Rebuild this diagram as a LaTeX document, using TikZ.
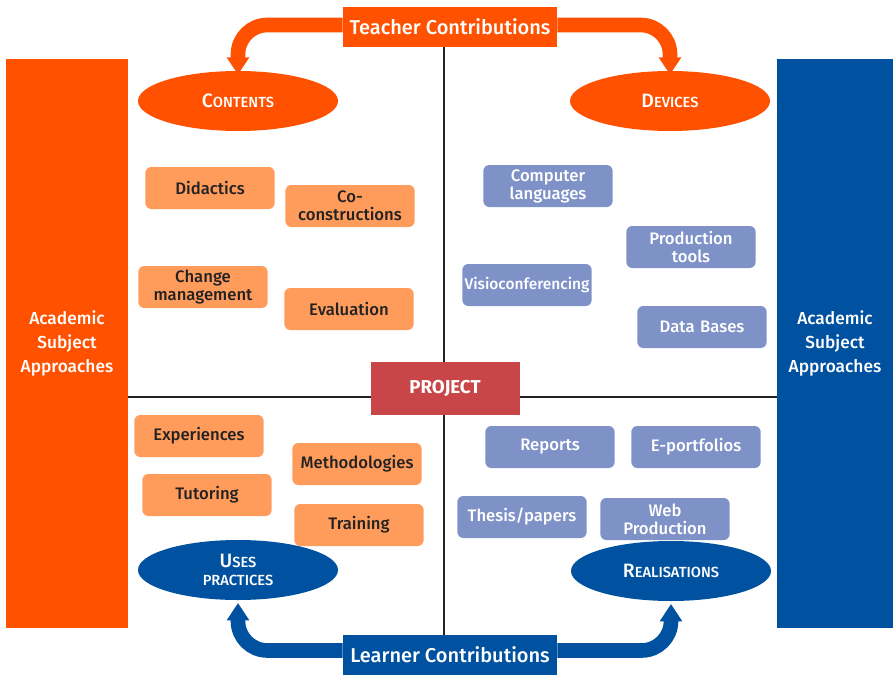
\documentclass[tikz,border=0pt]{standalone}
\usepackage{fontspec}
\setmainfont{Fira Sans}[UprightFont={* Medium}, BoldFont={* Bold}]
\usetikzlibrary{positioning,shapes.geometric,arrows.meta,backgrounds}

\definecolor{teachorange}{RGB}{255,81,0}
\definecolor{learnblue}{RGB}{0,82,160}
\definecolor{lightorange}{RGB}{255,156,92}
\definecolor{lightblue}{RGB}{127,146,200}
\definecolor{projred}{RGB}{200,70,72}
\definecolor{darktext}{RGB}{34,34,34}

\begin{document}
\begin{tikzpicture}[x=0.75pt, y=-0.75pt,
  item/.style={rectangle, rounded corners=4.5pt, minimum width=96pt, minimum height=31.5pt,
    inner sep=1pt, align=center, text width=95pt, font=\fontsize{12.5}{13.5}\selectfont},
  oitem/.style={item, fill=lightorange, text=darktext},
  bitem/.style={item, fill=lightblue, text=white},
  bar/.style={rectangle, minimum height=426.75pt, inner sep=0pt, align=center, text=white,
    font=\fontsize{13}{18}\selectfont},
  topic/.style={ellipse, minimum width=150pt, minimum height=45pt, inner sep=0pt, align=center, text=white},
  contrib/.style={rectangle, minimum width=160.5pt, minimum height=30pt, inner sep=0pt, text=white,
    font=\fontsize{15}{15}\selectfont},
  bigarrow/.style={line width=11pt, rounded corners=22pt, -{Triangle[width=16pt,length=13pt]}},
]
\useasboundingbox (0,0) rectangle (893,675);

% side bars
\node[bar, fill=teachorange, minimum width=91.5pt] (leftbar) at (67,343.5) {Academic\\Subject\\Approaches};
\node[bar, fill=learnblue, minimum width=87pt] (rightbar) at (835,343.5) {Academic\\Subject\\Approaches};

% contributions
\node[contrib, fill=teachorange] (teacher) at (450,27) {Teacher Contributions};
\node[contrib, fill=learnblue] (learner) at (450,655) {Learner Contributions};

\node[rectangle, fill=projred, minimum width=111.75pt, minimum height=39.75pt, text=white,
  font=\fontsize{14}{14}\bfseries] (project) at (445,388) {PROJECT};

% the four topics
\node[topic, fill=teachorange] (contents) at (238,101)
  {{\fontsize{14.5}{14}\selectfont C}{\fontsize{11}{10}\selectfont ONTENTS}};
\node[topic, fill=teachorange] (devices) at (670,101)
  {{\fontsize{14.5}{14}\selectfont D}{\fontsize{11}{10}\selectfont EVICES}};
\node[topic, fill=learnblue] (uses) at (238,570)
  {{\fontsize{14.5}{14}\selectfont U}{\fontsize{11}{10}\selectfont SES}\\[1pt]
   {\fontsize{11}{10}\selectfont PRACTICES}};
\node[topic, fill=learnblue] (real) at (671,571)
  {{\fontsize{14.5}{14}\selectfont R}{\fontsize{11}{10}\selectfont EALISATIONS}};

% contents
\node[oitem] (didactics) at (210,188) {Didactics};
\node[oitem] (cocons) at (350,206) {Co-\\constructions};
\node[oitem] (change) at (203,287) {Change\\management};
\node[oitem] (eval) at (349,309) {Evaluation};

% devices
\node[bitem] (complang) at (548,186) {Computer\\languages};
\node[bitem] (prodtools) at (691,247) {Production\\tools};
\node[bitem, font=\fontsize{11.6}{13}\selectfont] (visio) at (527,285) {Visioconferencing};
\node[bitem] (databases) at (702,327) {Data Bases};

% uses
\node[oitem] (exper) at (199,436) {Experiences};
\node[oitem] (tutor) at (207,495) {Tutoring};
\node[oitem] (method) at (357,464) {Methodologies};
\node[oitem] (train) at (359,525) {Training};

% realisations
\node[bitem] (reports) at (550,447) {Reports};
\node[bitem] (eport) at (696,447) {E-portfolios};
\node[bitem] (thesis) at (522,517) {Thesis/papers};
\node[bitem] (webprod) at (665,519) {Web\\Production};

% quadrant lines
\coordinate (vtop) at (444,47);
\coordinate (vbot) at (444,635);
\coordinate (hleft) at (128,397);
\coordinate (hright) at (777,397);
\begin{scope}[on background layer]
\draw[darktext, line width=1.6pt] (vtop) -- (vbot);
\draw[darktext, line width=1.6pt] (hleft) -- (hright);
\end{scope}

% contribution arrows
\draw[bigarrow, teachorange] ([yshift=1.5pt]teacher.west) -| ([yshift=-3pt]contents.north);
\draw[bigarrow, teachorange] ([yshift=1.5pt]teacher.east) -| ([yshift=-3pt]devices.north);
\draw[bigarrow, learnblue] ([yshift=3.4pt]learner.west) -| ([yshift=-2pt]uses.south);
\draw[bigarrow, learnblue] ([yshift=3.4pt]learner.east) -| ([yshift=-2pt]real.south);
\end{tikzpicture}
\end{document}
